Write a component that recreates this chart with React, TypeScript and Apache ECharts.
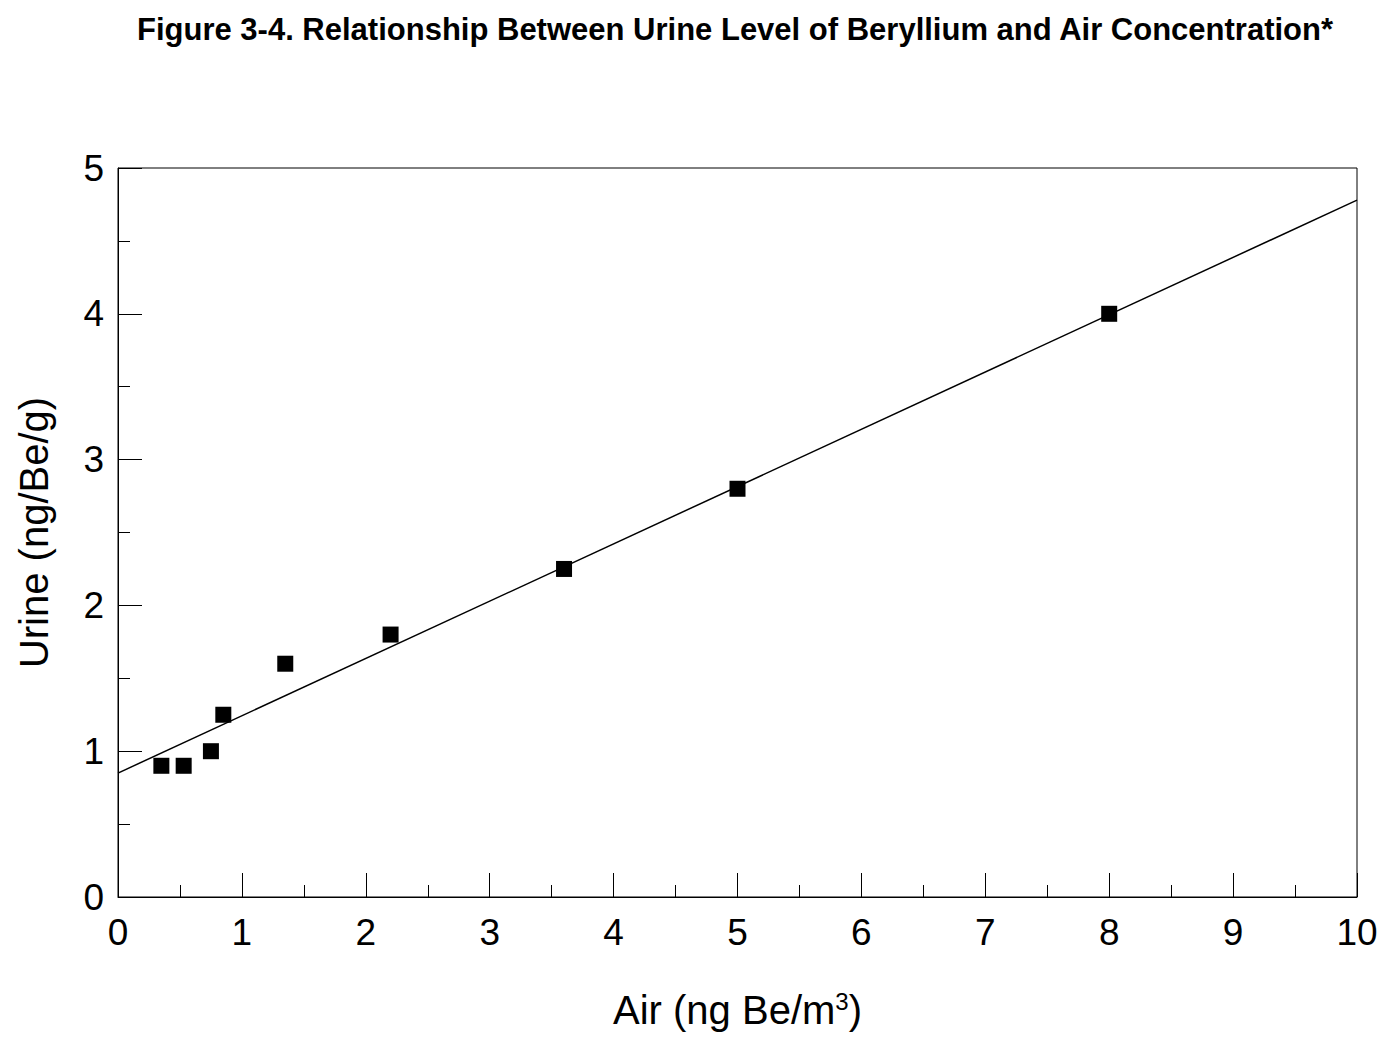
import React, { useEffect, useRef } from "react";
import * as echarts from "echarts";

const titleText = "Figure 3-4. Relationship Between Urine Level of Beryllium and Air Concentration*";
const airValues = [0.35, 0.53, 0.75, 0.85, 1.35, 2.2, 3.6, 5.0, 8.0];
const urineValues = [0.9, 0.9, 1.0, 1.25, 1.6, 1.8, 2.25, 2.8, 4.0];
const fitX = [0, 10];
const fitY = [0.85, 4.78];

export default function App() {
  const ref = useRef<HTMLDivElement>(null);
  useEffect(() => {
    if (!ref.current) return;
    const chart = echarts.init(ref.current, null, { renderer: "svg" });
    const font = "'Liberation Sans', Arial, sans-serif";
    chart.setOption({
      animation: false,
      backgroundColor: "#fff",
      title: {
        text: titleText,
        left: 132,
        top: 9,
        textStyle: { fontFamily: font, fontSize: 31, fontWeight: "bold", color: "#000" },
      },
      grid: {
        left: 118,
        right: 28,
        top: 168,
        bottom: 143,
        show: true,
        borderColor: "#000",
        borderWidth: 1,
        backgroundColor: "transparent",
      },
      xAxis: {
        type: "value",
        min: 0,
        max: 10,
        interval: 1,
        name: "{a|Air (ng Be/m}{s|3}{a|)}",
        nameLocation: "middle",
        nameGap: 92,
        nameTextStyle: {
          rich: {
            a: { fontFamily: font, fontSize: 40, color: "#000", verticalAlign: "bottom" },
            s: { fontFamily: font, fontSize: 24, color: "#000", verticalAlign: "bottom", padding: [0, 0, 17, 0] },
          },
        },
        axisLine: { show: true, lineStyle: { color: "#000", width: 1 } },
        axisTick: { show: true, inside: true, length: 24, lineStyle: { color: "#000" } },
        minorTick: { show: true, splitNumber: 2, length: 12, lineStyle: { color: "#000" } },
        splitLine: { show: false },
        axisLabel: { fontFamily: font, fontSize: 37, color: "#000", margin: 17 },
      },
      yAxis: {
        type: "value",
        min: 0,
        max: 5,
        interval: 1,
        name: "Urine (ng/Be/g)",
        nameLocation: "middle",
        nameGap: 64,
        nameTextStyle: { fontFamily: font, fontSize: 40, color: "#000" },
        axisLine: { show: true, lineStyle: { color: "#000", width: 1 } },
        axisTick: { show: true, inside: true, length: 24, lineStyle: { color: "#000" } },
        minorTick: { show: true, splitNumber: 2, length: 12, lineStyle: { color: "#000" } },
        splitLine: { show: false },
        axisLabel: { fontFamily: font, fontSize: 37, color: "#000", margin: 14 },
      },
      series: [
        {
          type: "line",
          data: fitX.map((x, i) => [x, fitY[i]]),
          showSymbol: false,
          symbol: "none",
          lineStyle: { color: "#000", width: 1.5 },
          silent: true,
          z: 2,
        },
        {
          type: "scatter",
          data: airValues.map((x, i) => [x, urineValues[i]]),
          symbol: "rect",
          symbolSize: 16,
          itemStyle: { color: "#000", opacity: 1 },
          z: 3,
        },
      ],
    });
    return () => chart.dispose();
  }, []);
  return <div ref={ref} style={{ width: 1385, height: 1040, position: "absolute", left: 0, top: 0 }} />;
}
